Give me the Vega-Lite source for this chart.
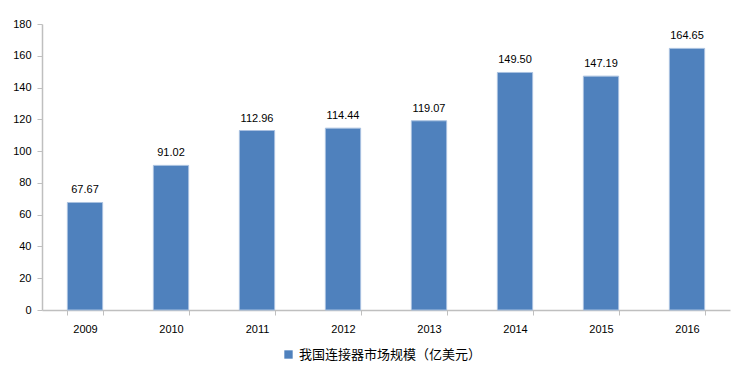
{
  "$schema": "https://vega.github.io/schema/vega-lite/v6.json",
  "width": 688,
  "height": 286,
  "autosize": {"type": "none"},
  "padding": {"left": 42, "top": 24, "right": 7, "bottom": 63},
  "background": "white",
  "data": {"values": [
    {"year": "2009", "value": 67.67, "label": "67.67", "series": "我国连接器市场规模（亿美元）"},
    {"year": "2010", "value": 91.02, "label": "91.02", "series": "我国连接器市场规模（亿美元）"},
    {"year": "2011", "value": 112.96, "label": "112.96", "series": "我国连接器市场规模（亿美元）"},
    {"year": "2012", "value": 114.44, "label": "114.44", "series": "我国连接器市场规模（亿美元）"},
    {"year": "2013", "value": 119.07, "label": "119.07", "series": "我国连接器市场规模（亿美元）"},
    {"year": "2014", "value": 149.5, "label": "149.50", "series": "我国连接器市场规模（亿美元）"},
    {"year": "2015", "value": 147.19, "label": "147.19", "series": "我国连接器市场规模（亿美元）"},
    {"year": "2016", "value": 164.65, "label": "164.65", "series": "我国连接器市场规模（亿美元）"}
  ]},
  "encoding": {
    "x": {
      "field": "year", "type": "nominal",
      "scale": {"paddingInner": 0.59, "paddingOuter": 0.295},
      "axis": {
        "title": null, "labelAngle": 0, "labelFontSize": 11, "labelColor": "#000000",
        "labelFont": "Liberation Sans", "labelPadding": 8,
        "domainColor": "#bfbfbf", "domainWidth": 1.5, "tickColor": "#bfbfbf", "tickSize": 5,
        "tickBand": "extent"
      }
    },
    "y": {
      "field": "value", "type": "quantitative",
      "scale": {"domain": [0, 180], "nice": false},
      "axis": {
        "title": null, "values": [0, 20, 40, 60, 80, 100, 120, 140, 160, 180],
        "grid": false, "labelFontSize": 11, "labelColor": "#000000",
        "labelFont": "Liberation Sans", "labelPadding": 6,
        "domainColor": "#bfbfbf", "domainWidth": 1.5, "tickColor": "#bfbfbf", "tickSize": 5
      }
    }
  },
  "layer": [
    {
      "mark": {"type": "bar", "stroke": "#a9c1e0", "strokeWidth": 1},
      "encoding": {
        "color": {
          "field": "series", "type": "nominal",
          "scale": {"range": ["#4f81bd"]},
          "legend": {
            "title": null, "orient": "none", "legendX": 240, "legendY": 324,
            "symbolType": "square", "symbolSize": 70, "labelFontSize": 13, "labelLimit": 0,
            "labelFont": "Noto Sans CJK SC", "labelColor": "#000000", "symbolStrokeWidth": 0
          }
        }
      }
    },
    {
      "mark": {"type": "text", "baseline": "bottom", "dy": -7, "fontSize": 11, "font": "Liberation Sans", "color": "#000000"},
      "encoding": {"text": {"field": "label"}}
    }
  ],
  "config": {"view": {"stroke": null}}
}
